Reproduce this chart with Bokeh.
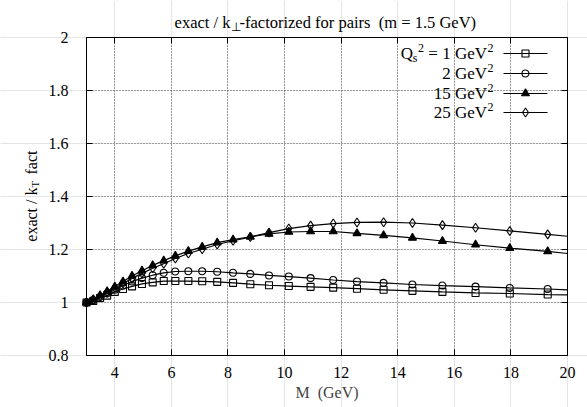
from bokeh.plotting import figure
from bokeh.models import Label, FixedTicker, PrintfTickFormatter, LinearAxis, Range1d, Grid
from bokeh.embed import file_html
from bokeh.resources import INLINE
import math

# ---------------- data ----------------
M = [3.0, 3.24, 3.48, 3.73, 4.0, 4.29, 4.61, 4.96, 5.34, 5.73, 6.14, 6.6, 7.09,
     7.62, 8.18, 8.79, 9.45, 10.15, 10.92, 11.72, 12.56, 13.5, 14.52, 15.58,
     16.75, 17.96, 19.3, 20.0]
q1 = [1.0, 1.006, 1.017, 1.026, 1.04, 1.051, 1.061, 1.07, 1.076, 1.081, 1.081,
      1.081, 1.08, 1.078, 1.074, 1.069, 1.065, 1.062, 1.059, 1.056, 1.052,
      1.048, 1.044, 1.04, 1.036, 1.034, 1.03, 1.029]
q2 = [1.0, 1.008, 1.021, 1.034, 1.048, 1.064, 1.079, 1.092, 1.103, 1.112, 1.117,
      1.118, 1.118, 1.116, 1.112, 1.108, 1.102, 1.098, 1.092, 1.085, 1.079,
      1.074, 1.068, 1.064, 1.06, 1.055, 1.051, 1.048]
q15 = [1.0, 1.012, 1.027, 1.042, 1.06, 1.079, 1.1, 1.12, 1.14, 1.158, 1.176,
       1.194, 1.21, 1.226, 1.237, 1.248, 1.259, 1.266, 1.268, 1.268, 1.261,
       1.253, 1.244, 1.232, 1.218, 1.205, 1.193, 1.185]
q25 = [1.0, 1.01, 1.023, 1.038, 1.055, 1.072, 1.091, 1.11, 1.129, 1.146, 1.166,
       1.185, 1.201, 1.219, 1.233, 1.247, 1.264, 1.279, 1.29, 1.298, 1.302,
       1.303, 1.3, 1.292, 1.282, 1.27, 1.257, 1.25]
legend_values = ["1", "2", "15", "25"]
x_ticks = [4, 6, 8, 10, 12, 14, 16, 18, 20]
y_ticks = [0.8, 1.0, 1.2, 1.4, 1.6, 1.8, 2.0]

FONT = "Liberation Serif"
FS_TICK = 16
FS = 17
SUB = 12

W, H = 587, 407
L, R, T, B = 86, 20, 37, 52          # plot box position inside the canvas
X0, X1, Y0, Y1 = 3.0, 20.0, 0.8, 2.0
FW, FH = W - L - R, H - T - B

def dx(px):
    return X0 + (px - L) * (X1 - X0) / FW

def dy(py):
    return Y0 + (H - B - py) * (Y1 - Y0) / FH

p = figure(width=W, height=H,
           x_range=Range1d(dx(0), dx(W)), y_range=Range1d(dy(H), dy(0)),
           output_backend="svg", toolbar_location=None,
           x_axis_location=None, y_axis_location=None,
           min_border=0, min_border_left=0, min_border_right=0,
           min_border_top=0, min_border_bottom=0)
p.background_fill_color = "white"
p.border_fill_color = "white"
p.outline_line_color = None

xt = FixedTicker(ticks=x_ticks)
yt = FixedTicker(ticks=y_ticks)

# ---------------- grid ----------------
if "cross_bounds" in Grid.properties():
    gx = Grid(dimension=0, ticker=xt, bounds=(X0, X1), cross_bounds=(Y0, Y1))
    gy = Grid(dimension=1, ticker=yt, bounds=(Y0, Y1), cross_bounds=(X0, X1))
    for g in (gx, gy):
        g.grid_line_color = "#555555"
        g.grid_line_dash = "1 2"
        g.grid_line_width = 1
        p.add_layout(g)
else:
    p.segment(x0=x_ticks, y0=[Y0] * len(x_ticks), x1=x_ticks, y1=[Y1] * len(x_ticks),
              line_color="#555555", line_dash="1 2", line_width=1)
    p.segment(x0=[X0] * len(y_ticks), y0=y_ticks, x1=[X1] * len(y_ticks), y1=y_ticks,
              line_color="#555555", line_dash="1 2", line_width=1)

# ---------------- axes (box with inward ticks) ----------------
def make_axis(ticker, loc, bounds, labels):
    ax = LinearAxis(ticker=ticker, fixed_location=loc, bounds=bounds)
    ax.axis_line_color = "black"
    ax.axis_line_width = 1
    ax.major_tick_in = 6
    ax.major_tick_out = 0
    ax.major_tick_line_color = "black"
    ax.minor_tick_line_color = None
    ax.major_label_text_font = FONT
    ax.major_label_text_font_size = f"{FS_TICK}px"
    ax.major_label_text_color = "black" if labels else None
    return ax

bottom = make_axis(xt, Y0, (X0, X1), True)
bottom.major_label_standoff = 11
bottom.axis_label = "M \u00a0(GeV)"
bottom.axis_label_text_font = FONT
bottom.axis_label_text_font_size = f"{FS_TICK}px"
bottom.axis_label_text_font_style = "normal"
bottom.axis_label_standoff = 3
p.add_layout(bottom, "below")

left = make_axis(yt, X0, (Y0, Y1), True)
left.formatter = PrintfTickFormatter(format="%g")
left.major_label_standoff = 18
p.add_layout(left, "left")

top = make_axis(xt, Y1, (X0, X1), False)
p.add_layout(top, "above")
right = make_axis(yt, X1, (Y0, Y1), False)
p.add_layout(right, "right")

# ---------------- series ----------------
series = [
    (q1, "square", 7, None),
    (q2, "circle", 7, None),
    (q15, "triangle", 8, "black"),
    (q25, "diamond", 9, None),
]
for ys, marker, size, fill in series:
    p.line(M, ys, line_color="black", line_width=1.2)
    p.scatter(M[:-1], ys[:-1], marker=marker, size=size, line_color="black",
              line_width=1.1, fill_color=fill)

# ---------------- text helpers ----------------
def lab(px, py, text, size=FS, align="left", baseline="middle", angle=0.0):
    p.add_layout(Label(x=dx(px), y=dy(py), text=text, text_font=FONT,
                       text_font_size=f"{size}px", text_align=align,
                       text_baseline=baseline, angle=angle, text_color="black"))

# title: exact / k_perp-factorized for pairs  (m = 1.5 GeV)
TS = 16.5
tx = 230
lab(tx, 22, "exact / k", size=TS, align="right", baseline="alphabetic")
lab(tx + 0.5, 26, "\u22a5", size=SUB, align="left", baseline="alphabetic")
lab(tx + 9, 22, "-factorized for pairs \u00a0(m = 1.5 GeV)", size=TS, align="left",
    baseline="alphabetic")

# y label: exact / k_T fact (rotated)
ly = 187
lab(31, ly, "exact / k", size=16, align="right", baseline="alphabetic", angle=math.pi / 2)
lab(34.5, ly, "T", size=11, align="left", baseline="alphabetic", angle=math.pi / 2)
lab(31, ly - 13, "fact", size=16, align="left", baseline="alphabetic", angle=math.pi / 2)

# legend
rx = 493
rows = [53, 73, 93, 112]
for i, (ys, marker, size, fill) in enumerate(series):
    ry = rows[i]
    lab(rx, ry - 6, "2", size=SUB, align="right")
    main = "= 1 GeV" if i == 0 else f"{legend_values[i]} GeV"
    lab(rx - 6.5, ry, main, align="right")
    if i == 0:
        lab(rx - 69.5, ry - 6, "2", size=SUB, align="right")
        lab(rx - 76, ry + 4, "s", size=SUB, align="right")
        lab(rx - 80.5, ry, "Q", align="right")
    p.line([dx(503), dx(547)], [dy(ry), dy(ry)], line_color="black", line_width=1.2)
    p.scatter([dx(525)], [dy(ry)], marker=marker, size=size, line_color="black",
              line_width=1.1, fill_color=fill)

open("out.html", "w").write(file_html(p, INLINE))
